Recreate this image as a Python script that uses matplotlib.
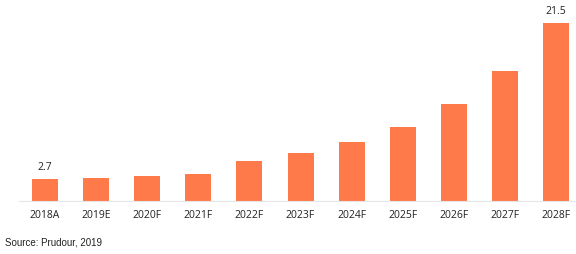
import matplotlib
matplotlib.use("Agg")
import matplotlib.pyplot as plt

categories = ["2018A", "2019E", "2020F", "2021F", "2022F", "2023F",
              "2024F", "2025F", "2026F", "2027F", "2028F"]
values = [2.7, 2.8, 3.0, 3.3, 4.8, 5.8, 7.1, 8.9, 11.7, 15.7, 21.5]
labels = {0: "2.7", 10: "21.5"}

W, H = 576, 255
fig = plt.figure(figsize=(W / 100, H / 100), dpi=100)
left_px, right_px = 19.5, 576
bottom_px, top_px = 202, 24
ax = fig.add_axes([left_px / W, 1 - bottom_px / H, (right_px - left_px) / W, (bottom_px - 10) / H])

x = list(range(len(categories)))
ax.bar(x, values, width=0.51, color="#FF7A4A", zorder=2)
spacing = 51.1
ax.set_xlim(-0.5, -0.5 + (right_px - left_px) / spacing)
# y scale: 178 px for 21.5
ppu = 178 / 21.5
ax.set_ylim(0, (bottom_px - 10) / ppu)

for i, t in labels.items():
    ax.annotate(t, (i, values[i]), xytext=(0, 5), textcoords="offset points",
                ha="center", va="bottom", fontsize=7.5, family="Open Sans", color="#222222")

ax.set_xticks(x)
ax.set_xticklabels(categories, fontsize=7.5, family="Open Sans", color="#222222")
ax.tick_params(axis="x", length=0, pad=5.5)
ax.set_yticks([])
for s in ["top", "right", "left"]:
    ax.spines[s].set_visible(False)
ax.spines["bottom"].set_color("#E6E6E6")
ax.spines["bottom"].set_linewidth(0.8)

fig.text(5 / W, 1 - 243 / H, "Source: Prudour, 2019", fontsize=7, family="Liberation Sans",
         color="#222222", va="center", ha="left")

fig.savefig("out.png", dpi=100)
